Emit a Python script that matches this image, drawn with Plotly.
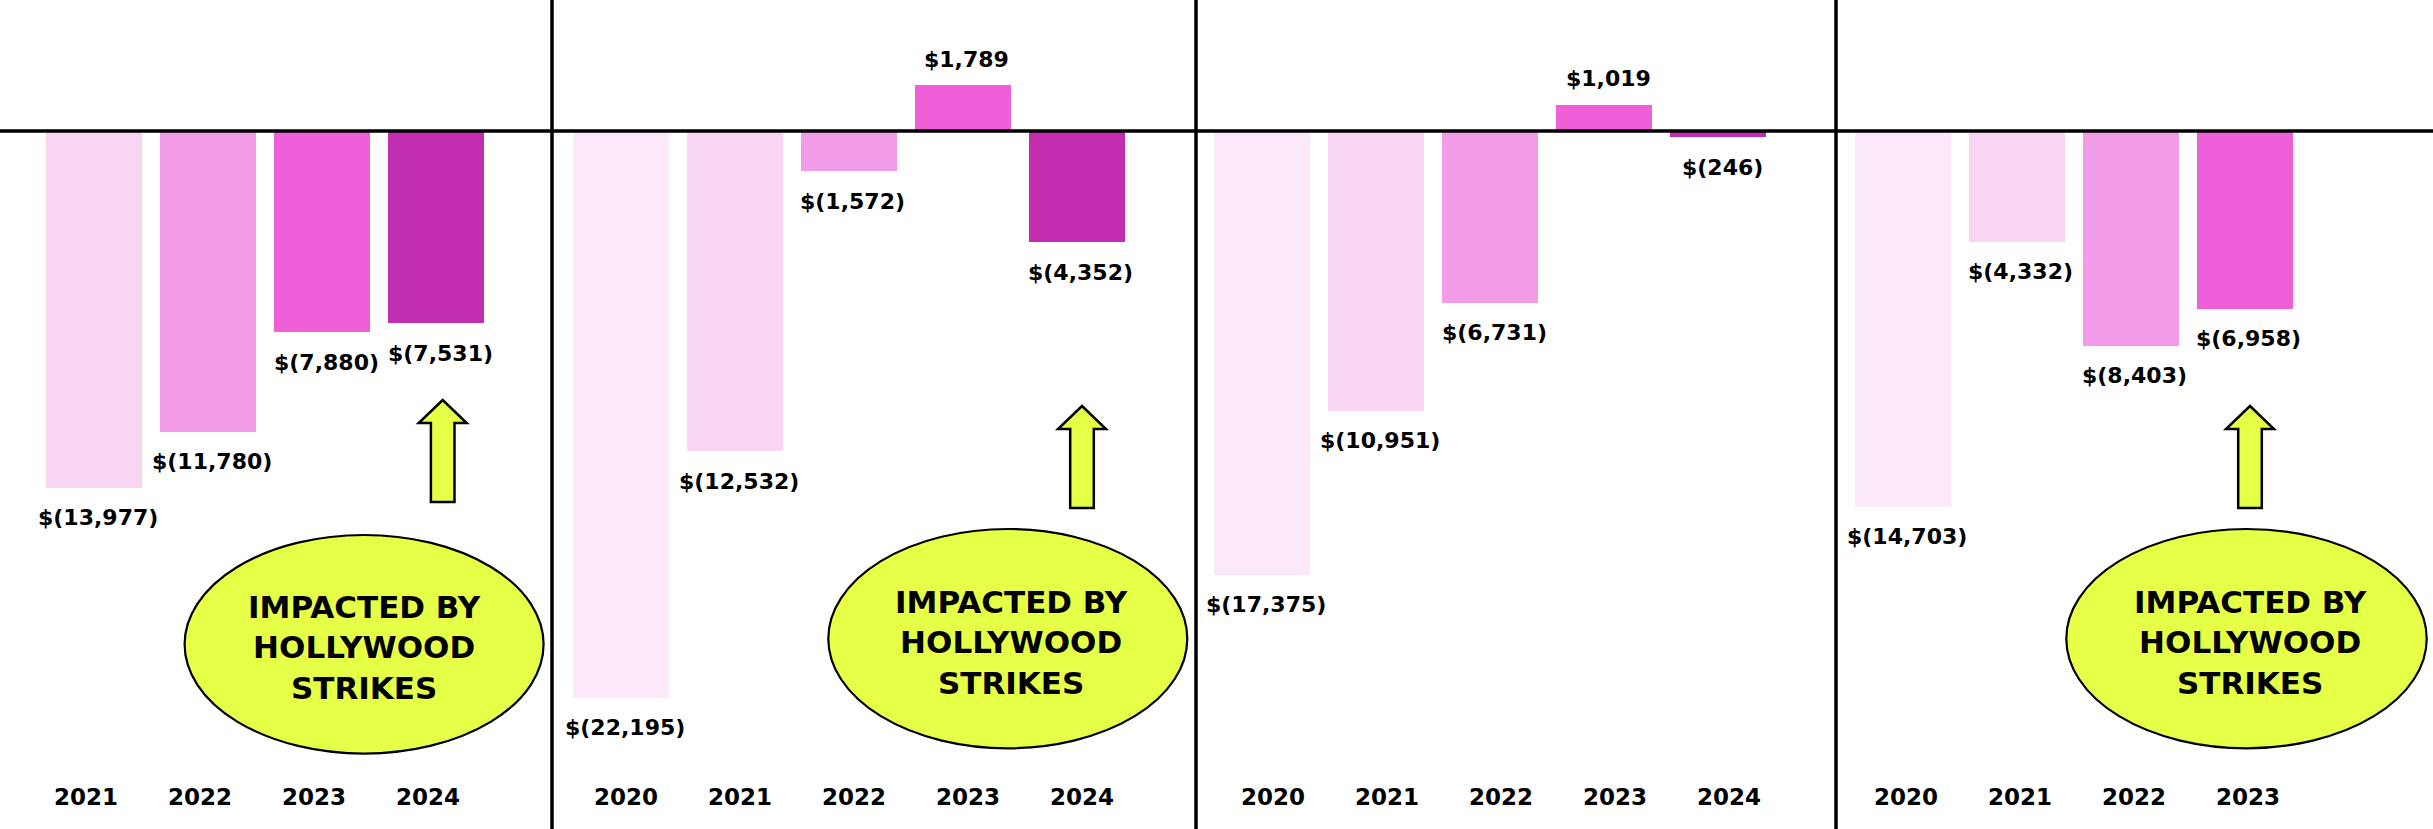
import plotly.graph_objects as go

W, H = 2433, 829

# ---- data ----
years1 = ["2021", "2022", "2023", "2024"]
vals1 = [-13977, -11780, -7880, -7531]
years2 = ["2020", "2021", "2022", "2023", "2024"]
vals2 = [-22195, -12532, -1572, 1789, -4352]
years3 = ["2020", "2021", "2022", "2023", "2024"]
vals3 = [-17375, -10951, -6731, 1019, -246]
years4 = ["2020", "2021", "2022", "2023"]
vals4 = [-14703, -4332, -8403, -6958]

callout_text = "IMPACTED BY<br>HOLLYWOOD<br>STRIKES"

year_colors = {
    "2020": "#FBE8F8",
    "2021": "#F9D5F4",
    "2022": "#F29BE6",
    "2023": "#EE5FD9",
    "2024": "#C22DB0",
}

FONT = "DejaVu Sans"


def fmt(v):
    return f"${v:,}" if v >= 0 else f"$({-v:,})"


def px(x):
    return x / W


def py(y):
    return 1 - y / H


# panel layout (pixel edges) and category ranges
edges = [0, 552, 1196, 1836, W]
xranges = [[-0.82, 4.014], [-0.601, 5.043], [-0.579, 5.035], [-0.588, 4.65]]
year_label_shift = [-8, 5, 11, 3]
panels = [(years1, vals1), (years2, vals2), (years3, vals3), (years4, vals4)]
callouts = [True, True, False, True]
# callout geometry (pixels): arrow centre x, arrow tip y, ellipse box, text centre
arrow_geo = [(442.7, 400), (1082, 406), None, (2250, 406)]
ellipse_geo = [(184.6, 535, 543.6, 753.6), (828.3, 529, 1187.3, 748.3), None,
               (2066.3, 529, 2426.7, 748.3)]
text_geo = [(364.6, 647), (1012, 642), None, (2250.6, 642)]

fig = go.Figure()
annotations = []
shapes = []

for i, (yrs, vals) in enumerate(panels):
    n = "" if i == 0 else str(i + 1)
    xa = "x" + n
    fig.add_trace(go.Bar(
        x=yrs, y=vals, xaxis=xa, yaxis="y",
        marker=dict(color=[year_colors[y] for y in yrs], line=dict(width=0)),
        width=0.84, showlegend=False, hoverinfo="skip",
    ))
    fig.update_layout(**{
        "xaxis" + n: dict(
            domain=[edges[i] / W, edges[i + 1] / W],
            type="category", range=xranges[i],
            showgrid=False, zeroline=False, showline=False,
            showticklabels=False, ticks="", fixedrange=True,
            anchor="y",
        )
    })
    for j, (y, v) in enumerate(zip(yrs, vals)):
        # category axes position annotations by category index
        annotations.append(dict(
            x=j, y=v, xref=xa, yref="y",
            text=f"<b>{fmt(v)}</b>", showarrow=False,
            yanchor="middle", xanchor="center",
            xshift=4, yshift=(26 if v >= 0 else -30),
            font=dict(family=FONT, size=22, color="#000000"),
        ))
        annotations.append(dict(
            x=j, y=py(797), xref=xa, yref="paper",
            text=f"<b>{y}</b>", showarrow=False,
            yanchor="middle", xanchor="center",
            xshift=year_label_shift[i],
            font=dict(family=FONT, size=23, color="#000000"),
        ))
    if callouts[i]:
        cx, tip = arrow_geo[i]
        hb = tip + 23
        bot = tip + 102
        hw, sw = 24, 11.8
        pts = [(cx, tip), (cx + hw, hb), (cx + sw, hb), (cx + sw, bot),
               (cx - sw, bot), (cx - sw, hb), (cx - hw, hb)]
        path = "M " + " L ".join(f"{px(a):.6f},{py(b):.6f}" for a, b in pts) + " Z"
        shapes.append(dict(type="path", xref="paper", yref="paper", path=path,
                           fillcolor="#E6FF47", line=dict(color="#000000", width=2.5),
                           layer="above"))
        x0, y0, x1, y1 = ellipse_geo[i]
        shapes.append(dict(type="circle", xref="paper", yref="paper",
                           x0=px(x0), x1=px(x1), y0=py(y1), y1=py(y0),
                           fillcolor="#E6FF47", line=dict(color="#000000", width=2.2),
                           layer="above"))
        tx, ty = text_geo[i]
        annotations.append(dict(
            x=px(tx), y=py(ty), xref="paper", yref="paper",
            text=f"<b>{callout_text}</b>", showarrow=False,
            xanchor="center", yanchor="middle", align="center",
            font=dict(family=FONT, size=31, color="#000000"),
        ))

# zero line across the full width
shapes.append(dict(type="line", xref="paper", yref="y", x0=0, x1=1, y0=0, y1=0,
                   line=dict(color="#000000", width=3.5), layer="above"))
# panel dividers
for e in edges[1:-1]:
    shapes.append(dict(type="line", xref="paper", yref="paper",
                       x0=px(e), x1=px(e), y0=0, y1=1,
                       line=dict(color="#000000", width=3.5), layer="above"))

fig.update_layout(
    width=W, height=H,
    margin=dict(l=0, r=0, t=0, b=0, pad=0),
    paper_bgcolor="#FFFFFF", plot_bgcolor="#FFFFFF",
    yaxis=dict(domain=[0, 1], range=[-27330, 5129], showgrid=False,
               zeroline=False, showline=False, showticklabels=False,
               ticks="", fixedrange=True),
    bargap=0,
    annotations=annotations,
    shapes=shapes,
    font=dict(family=FONT),
)

fig.write_html("out.html", config={"displayModeBar": False},
               post_script="document.body.style.margin='0';document.body.style.overflow='hidden';")
